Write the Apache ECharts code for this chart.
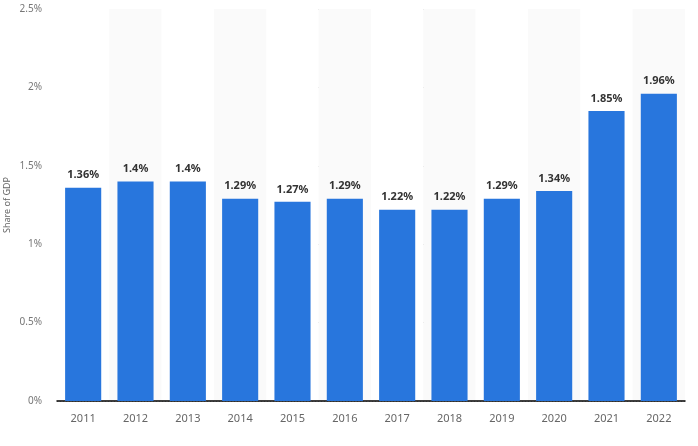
<!DOCTYPE html>
<html><head><meta charset="utf-8">
<script src="https://cdn.jsdelivr.net/npm/echarts@6/dist/echarts.min.js"></script>
<style>html,body{margin:0;padding:0;background:#fff}#c{width:698px;height:446px}</style>
</head><body><div id="c"></div>
<script>
var categories = ['2011','2012','2013','2014','2015','2016','2017','2018','2019','2020','2021','2022'];
var values = [1.36, 1.4, 1.4, 1.29, 1.27, 1.29, 1.22, 1.22, 1.29, 1.34, 1.85, 1.96];
var yTicks = [0, 0.5, 1, 1.5, 2, 2.5];
var chart = echarts.init(document.getElementById('c'), null, {renderer:'canvas'});
chart.setOption({
  animation:false,
  grid:{left:57,right:13,top:9,bottom:45,containLabel:false,outerBoundsMode:'none'},
  xAxis:{type:'category',data:categories,
    axisLine:{lineStyle:{color:'#000',width:1.5}},
    axisTick:{show:false},
    axisLabel:{color:'#666',fontSize:11,fontFamily:'Noto Sans',margin:12},
    splitArea:{show:true,areaStyle:{color:['#ffffff','#fafafa']}}
  },
  yAxis:{type:'value',min:0,max:2.5,interval:0.5,
    name:'Share of GDP',nameLocation:'middle',nameGap:45,nameRotate:90,nameMoveOverlap:false,
    nameTextStyle:{color:'#666',fontSize:9,fontFamily:'Noto Sans'},
    axisLine:{show:false},axisTick:{show:false},
    axisLabel:{color:'#777',fontSize:10,fontFamily:'Noto Sans',margin:15,
      formatter:function(v){return yTicks.indexOf(v)>=0 ? v+'%' : '';}},
    splitLine:{lineStyle:{color:'#bbb',type:[1,2]}}
  },
  series:[{type:'bar',data:values,barWidth:'69%',
    itemStyle:{color:'#2876dd'},
    label:{show:true,position:'top',distance:7,color:'#333',fontWeight:'bold',fontSize:11,fontFamily:'Noto Sans',
      formatter:function(p){return p.value+'%';}}
  }]
});
</script></body></html>
